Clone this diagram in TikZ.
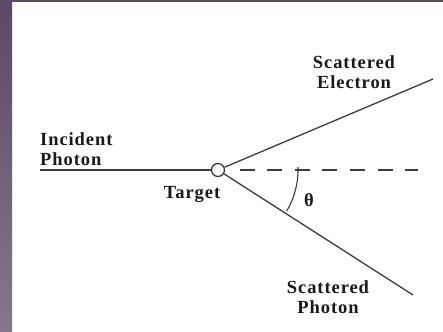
\documentclass[tikz,border=0pt]{standalone}
\usepackage{fontspec}
\newfontfamily\lblfont[LetterSpace=5]{Liberation Serif}
\usetikzlibrary{positioning}
\definecolor{frameTop}{HTML}{5C4867}
\definecolor{frameBot}{HTML}{847789}
\definecolor{ink}{HTML}{3C3C3C}

\begin{document}
\begin{tikzpicture}[
  x=1pt, y=-1pt,
  every node/.style={font=\lblfont\bfseries\fontsize{18.5}{20}\selectfont, text=black!90, inner sep=0pt},
  beam/.style={draw=ink, line width=1.3pt},
  refline/.style={draw=ink, line width=1.3pt, dash pattern=on 15pt off 12.6pt},
  target/.style={circle, draw=ink, line width=1.3pt, fill=white, minimum size=13pt}
]
  \useasboundingbox (0,0) rectangle (443,331);
  % frame strips
  \fill[white] (0,0) rectangle (443,331);
  \shade[top color=frameTop, bottom color=frameBot] (0,0) rectangle (12,331);
  \fill[frameTop] (0,0) rectangle (443,2.5);

  % target and free ends
  \node[target] (tgt) at (218,170) {};
  \coordinate (inc) at (40,170);
  \coordinate (ele) at (433,79);
  \coordinate (pho) at (413,295);
  \coordinate (dsh) at (418,170);

  % beams
  \draw[beam] (inc) -- (tgt);
  \draw[beam] (tgt) -- (ele);
  \draw[beam] (tgt) -- (pho);
  \draw[refline] ([xshift=14.5pt]tgt.east) -- (dsh);
  \draw[beam, line width=1.1pt] (tgt.center) ++(-2:80) arc[start angle=-2, end angle=31, radius=80];

  % labels
  \node[align=left, anchor=south west] (inclbl) at (40,166) {Incident\\Photon};
  \node (tgtlbl) at (192,194) {Target};
  \node[align=center] (elelbl) at (354,72) {Scattered\\Electron};
  \node[align=center] (pholbl) at (328,297) {Scattered\\Photon};
  \node (theta) at (309,200) {θ};
\end{tikzpicture}
\end{document}
